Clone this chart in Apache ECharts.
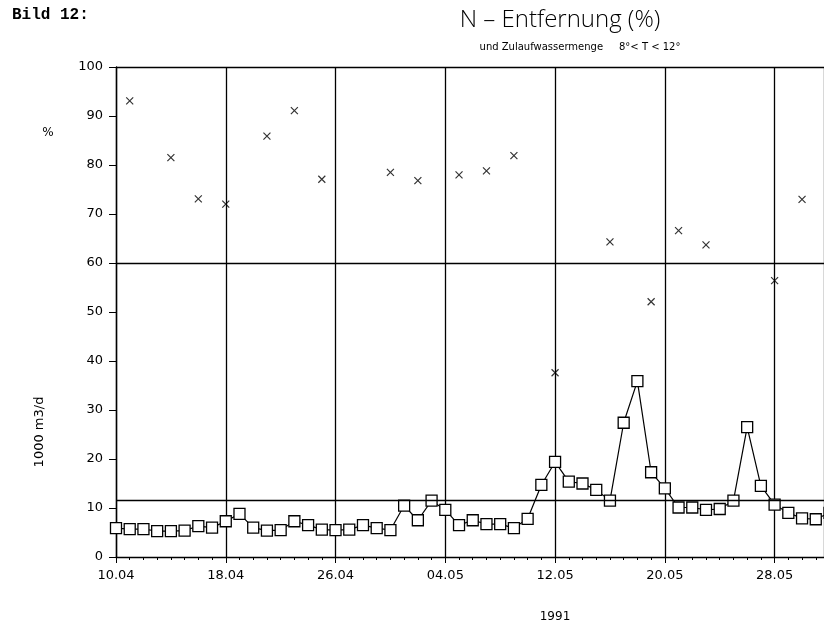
<!DOCTYPE html>
<html>
<head>
<meta charset="utf-8">
<script src="https://cdn.jsdelivr.net/npm/echarts@6/dist/echarts.min.js"></script>
<style>
html,body{margin:0;padding:0;background:#fff;}
#c{width:824px;height:623px;}
</style>
</head>
<body>
<div id="c"></div>
<script>
// Day offsets from 10.04.1991
var tickLabels = ['10.04','18.04','26.04','04.05','12.05','20.05','28.05'];
// Zulaufwassermenge (1000 m3/d), daily from 10.04
var flowDays = [];
var flowValues = [5.9,5.7,5.7,5.3,5.3,5.4,6.3,6.0,7.3,8.8,6.0,5.4,5.5,7.3,6.5,5.6,5.5,5.6,6.5,5.9,5.5,10.5,7.5,11.5,9.6,6.5,7.5,6.7,6.7,5.9,7.8,14.7,19.4,15.4,15.0,13.7,11.5,27.4,35.9,17.3,14.0,10.1,10.1,9.6,9.8,11.5,26.5,14.5,10.7,9.0,7.9,7.7,9.0];
for (var i = 0; i < flowValues.length; i++) flowDays.push(i);
// N-Entfernung (%)
var removalDays   = [1,4,6,8,11,13,15,20,22,25,27,29,32,36,39,41,43,48,50];
var removalValues = [93.1,81.5,73.1,72.0,85.9,91.1,77.1,78.5,76.8,78.0,78.8,81.9,37.6,64.3,52.1,66.6,63.7,56.4,73.0];
// reference lines
var refLines = [60, 100, 11.6];

var chart = echarts.init(document.getElementById('c'));
var font = 'DejaVu Sans';
var option = {
  backgroundColor: '#fff',
  animation: false,
  grid: {left: 116, right: 0, top: 67, bottom: 66, containLabel: false},
  xAxis: {
    type: 'value', min: 0, max: 51.6, interval: 8,
    axisLine: {show: true, lineStyle: {color: '#000', width: 1.4}},
    axisTick: {show: true, length: 6, lineStyle: {color: '#000'}},
    minorTick: {show: true, splitNumber: 8, length: 3, lineStyle: {color: '#000'}},
    splitLine: {show: true, lineStyle: {color: '#000', width: 1.3}},
    axisLabel: {
      color: '#000', fontFamily: font, fontSize: 13, margin: 12, showMaxLabel: false,
      formatter: function (v) { return (v % 8 === 0) ? (tickLabels[v / 8] || '') : ''; }
    }
  },
  yAxis: {
    type: 'value', min: 0, max: 100, interval: 10,
    axisLine: {show: true, lineStyle: {color: '#000', width: 1.4}},
    axisTick: {show: true, length: 7, lineStyle: {color: '#000'}},
    splitLine: {show: false},
    axisLabel: {color: '#000', fontFamily: font, fontSize: 13, margin: 13}
  },
  series: [
    {
      type: 'line',
      data: flowDays.map(function (d, i) { return [d, flowValues[i]]; }),
      symbol: 'rect', symbolSize: 11, showAllSymbol: true, clip: false,
      lineStyle: {color: '#000', width: 1.2},
      itemStyle: {color: '#fff', borderColor: '#000', borderWidth: 1.3},
      z: 3,
      markLine: {
        silent: true, symbol: 'none', label: {show: false},
        lineStyle: {color: '#000', type: 'solid', width: 1.3},
        data: refLines.map(function (v) { return {yAxis: v}; })
      }
    },
    {
      type: 'scatter',
      data: removalDays.map(function (d, i) { return [d, removalValues[i]]; }),
      symbol: 'path://M0,0L10,10M10,0L0,10', symbolSize: 7,
      itemStyle: {color: 'none', borderColor: '#000', borderWidth: 1.2},
      z: 4
    }
  ],
  graphic: [
    {type: 'text', left: 12, top: 7, style: {text: 'Bild 12:', font: 'bold 16px "Liberation Mono"', fill: '#000'}},
    {type: 'text', x: 560, y: 20, style: {text: 'N \u2013 Entfernung (%)', font: '300 24px "Open Sans"', fill: '#000', textAlign: 'center', textVerticalAlign: 'middle'}},
    {type: 'text', x: 580, y: 47, style: {text: 'und Zulaufwassermenge     8°< T < 12°', font: '10px "DejaVu Sans"', fill: '#000', textAlign: 'center', textVerticalAlign: 'middle'}},
    {type: 'text', x: 48, y: 133, style: {text: '%', font: '12px "DejaVu Sans"', fill: '#000', textAlign: 'center', textVerticalAlign: 'middle'}},
    {type: 'text', x: 40, y: 432, rotation: Math.PI / 2, style: {text: '1000 m3/d', font: '13px "DejaVu Sans"', fill: '#000', textAlign: 'center', textVerticalAlign: 'middle'}},
    {type: 'text', x: 555, y: 617, style: {text: '1991', font: '12px "DejaVu Sans"', fill: '#000', textAlign: 'center', textVerticalAlign: 'middle'}}
  ]
};
chart.setOption(option);
</script>
</body>
</html>
